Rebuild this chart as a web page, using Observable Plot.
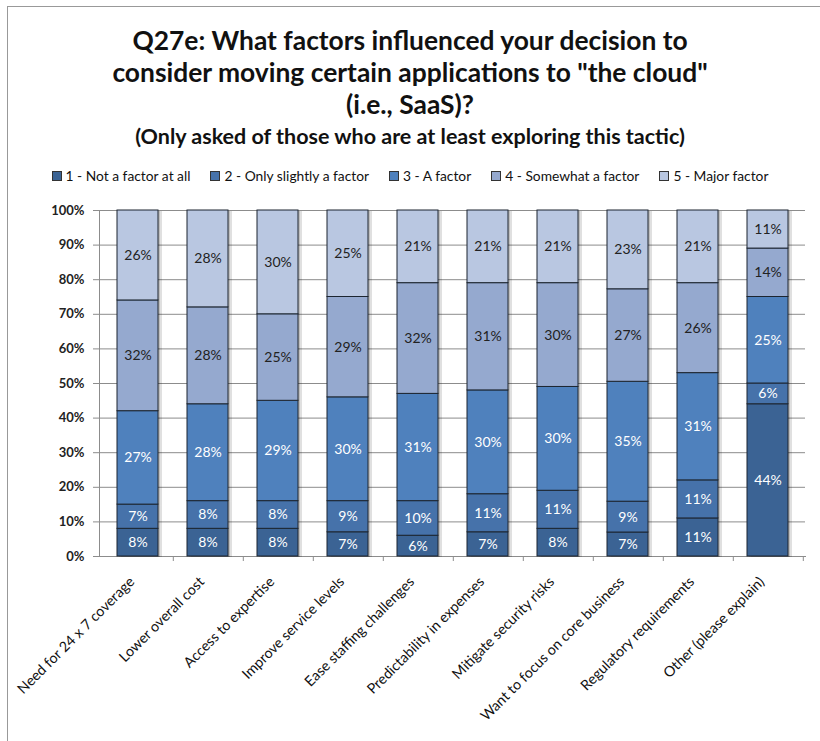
<!DOCTYPE html>
<html>
<head>
<meta charset="utf-8">
<script src="https://cdn.jsdelivr.net/npm/d3@7"></script>
<script src="https://cdn.jsdelivr.net/npm/@observablehq/plot@0.6"></script>
<style>
  html, body { margin: 0; padding: 0; background: #fff; }
  body { width: 820px; height: 741px; position: relative; overflow: hidden; font-family: Lato, "Open Sans", sans-serif; color: #111; }
  #frame { position: absolute; left: 7px; top: 6px; width: 830px; height: 760px; border-left: 1px solid #999; border-top: 1px solid #999; z-index: 2; pointer-events: none; }
  #title { position: absolute; left: 0; width: 820px; top: 24px; text-align: center; font-weight: bold; font-size: 26.4px; line-height: 32px; }
  #subtitle { position: absolute; left: 0; width: 820px; top: 122px; text-align: center; font-weight: bold; font-size: 21.5px; line-height: 28px; }
  #legend { position: absolute; left: 0; width: 820px; top: 167px; display: flex; justify-content: center; gap: 20px; font-size: 13.8px; line-height: 18px; }
  #legend .item { display: flex; align-items: center; gap: 4px; }
  #legend .sw { width: 10px; height: 10px; border: 1px solid #333; box-sizing: border-box; }
  #chart { position: absolute; left: 0; top: 190px; }
</style>
</head>
<body>
<div id="frame"></div>
<div id="title">Q27e: What factors influenced your decision to<br>consider moving certain applications to "the cloud"<br>(i.e., SaaS)?</div>
<div id="subtitle">(Only asked of those who are at least exploring this tactic)</div>
<div id="legend"></div>
<div id="chart"></div>
<script>
const categories = [
  "Need for 24 x 7 coverage",
  "Lower overall cost",
  "Access to expertise",
  "Improve service levels",
  "Ease staffing challenges",
  "Predictability in expenses",
  "Mitigate security risks",
  "Want to focus on core business",
  "Regulatory requirements",
  "Other (please explain)"
];
const levels = [
  "1 - Not a factor at all",
  "2 - Only slightly a factor",
  "3 - A factor",
  "4 - Somewhat a factor",
  "5 - Major factor"
];
const notFactor      = [8, 8, 8, 7, 6, 7, 8, 7, 11, 44];
const slightlyFactor = [7, 8, 8, 9, 10, 11, 11, 9, 11, 6];
const aFactor        = [27, 28, 29, 30, 31, 30, 30, 35, 31, 25];
const somewhatFactor = [32, 28, 25, 29, 32, 31, 30, 27, 26, 14];
const majorFactor    = [26, 28, 30, 25, 21, 21, 21, 23, 21, 11];
const yTicks = [0, 0.1, 0.2, 0.3, 0.4, 0.5, 0.6, 0.7, 0.8, 0.9, 1];

const colors = ["#3b6394", "#4672aa", "#4f81bd", "#95a9cf", "#b9c7e1"];
const series = [notFactor, slightlyFactor, aFactor, somewhatFactor, majorFactor];

const data = [];
categories.forEach((c, i) => {
  series.forEach((s, k) => {
    data.push({cat: c, level: levels[k], k, value: s[i]});
  });
});

// legend
const leg = document.getElementById("legend");
levels.forEach((l, k) => {
  const it = document.createElement("div");
  it.className = "item";
  it.innerHTML = `<span class="sw" style="background:${colors[k]}"></span><span>${l}</span>`;
  leg.appendChild(it);
});

const W = 820, mL = 99, mR = 15;
const step = (W - mL - mR) / 10;
const stackOpts = {x: "cat", y: "value", z: "level", order: null, offset: "normalize"};

const chart = Plot.plot({
  width: W,
  height: 551,
  marginTop: 20,
  marginBottom: 185,
  marginLeft: mL,
  marginRight: mR,
  style: {fontFamily: "Lato, 'Open Sans', sans-serif", background: "transparent", overflow: "visible"},
  x: {domain: categories, paddingInner: 0.42, paddingOuter: 0.21},
  y: {domain: [0, 1]},
  color: {domain: levels, range: colors},
  marks: [
    Plot.gridY(yTicks, {stroke: "#8c8c8c", strokeOpacity: 1}),
    Plot.axisY(yTicks, {tickFormat: d3.format(".0%"), tickSize: 6, tickPadding: 9, stroke: "#8c8c8c", fontWeight: "bold", fontSize: 13, fill: "#222", label: null}),
    Plot.frame({anchor: "left", stroke: "#8c8c8c"}),
    Plot.frame({anchor: "bottom", stroke: "#8c8c8c"}),
    Plot.axisX({tickSize: 5, tickFormat: () => "", dx: step / 2, stroke: "#8c8c8c", label: null}),
    Plot.axisX({tickSize: 0, tickRotate: -45, tickPadding: 23, fontSize: 14.3, fill: "#111", label: null, dx: -6}),
    Plot.barY(data, Plot.stackY({...stackOpts, fill: "#000", fillOpacity: 0.12, dx: 4, dy: 1})),
    Plot.barY(data, Plot.stackY({...stackOpts, fill: "#000", fillOpacity: 0.15, dx: 2, dy: 1})),
    Plot.barY(data, Plot.stackY({...stackOpts, fill: "level", stroke: "#1c2530", strokeWidth: 1})),
    Plot.text(data, Plot.stackY({...stackOpts, text: d => d.value + "%",
      fill: d => d.k < 3 ? "white" : "#222",
      fontWeight: d => d.k < 3 ? "bold" : "normal",
      fontSize: 14}))
  ]
});
document.getElementById("chart").appendChild(chart);
</script>
</body>
</html>
